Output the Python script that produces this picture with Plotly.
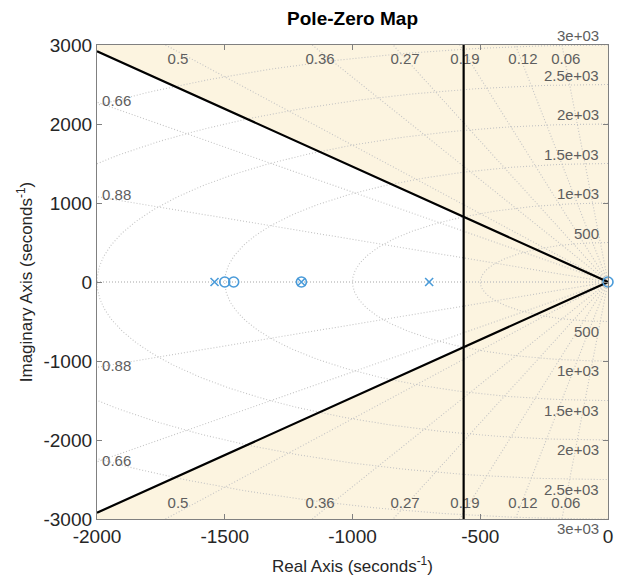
import numpy as np
import plotly.graph_objects as go

# ---- data ----
poles_re = [-1540, -1200, -700]
poles_im = [0, 0, 0]
zeros_re = [-1500, -1465, -1200, 0]
zeros_im = [0, 0, 0, 0]

zeta_grid = [0.06, 0.12, 0.19, 0.27, 0.36, 0.5, 0.66, 0.88]
wn_grid = [500, 1000, 1500, 2000, 2500, 3000]
wn_labels = ["500", "1e+03", "1.5e+03", "2e+03", "2.5e+03", "3e+03"]

zeta_top = [0.5, 0.36, 0.27, 0.19, 0.12, 0.06]
zeta_top_text = ["0.5", "0.36", "0.27", "0.19", "0.12", "0.06"]
zeta_top_x = [-1683, -1127, -794, -560, -333, -165]
zeta_side = [0.66, 0.88]
zeta_side_text = ["0.66", "0.88"]

zeta_spec = 0.565      # design damping boundary
sigma_spec = -565      # design decay boundary

x_ticks = [-2000, -1500, -1000, -500, 0]
x_ticktext = ["-2000", "-1500", "-1000", "-500", "0"]
y_ticks = [-3000, -2000, -1000, 0, 1000, 2000, 3000]
y_ticktext = ["-3000", "-2000", "-1000", "0", "1000", "2000", "3000"]

XMIN, XMAX, YMIN, YMAX = -2000, 0, -3000, 3000

BEIGE = "#FCF4E0"
GRID = "#C4C4C4"
LBL = "#5E5E5E"
BLUE = "#4A9BD9"
FONT = "Liberation Sans, Arial, sans-serif"
DOT = "1px,2px"

fig = go.Figure()

# allowed (white) region
slope = np.sqrt(1 - zeta_spec**2) / zeta_spec
wx = [XMIN, sigma_spec, sigma_spec, XMIN, XMIN]
wy = [-XMIN * slope, -sigma_spec * slope, sigma_spec * slope, XMIN * slope, -XMIN * slope]
fig.add_trace(go.Scatter(x=wx, y=wy, mode="lines", fill="toself", fillcolor="white",
                         line=dict(width=0), hoverinfo="skip", showlegend=False))

# damping grid lines
R = 5000
for z in zeta_grid + [1.0]:
    s = np.sqrt(max(0.0, 1 - z**2))
    fig.add_trace(go.Scatter(x=[0, -R * z, None, 0, -R * z], y=[0, R * s, None, 0, -R * s],
                             mode="lines", line=dict(color=GRID, width=1.1, dash=DOT),
                             hoverinfo="skip", showlegend=False))

# natural frequency grid
th = np.linspace(np.pi / 2, 3 * np.pi / 2, 240)
for wn in wn_grid:
    fig.add_trace(go.Scatter(x=wn * np.cos(th), y=wn * np.sin(th), mode="lines",
                             line=dict(color=GRID, width=1.1, dash=DOT),
                             hoverinfo="skip", showlegend=False))

# damping labels (top & bottom)
ylab = 2810
fig.add_trace(go.Scatter(x=zeta_top_x + zeta_top_x, y=[ylab] * 6 + [-ylab] * 6,
                         mode="text", text=zeta_top_text + zeta_top_text,
                         textposition="middle center",
                         textfont=dict(size=15, color=LBL, family=FONT),
                         hoverinfo="skip", showlegend=False))
side_y = [-XMIN * np.sqrt(1 - z**2) / z for z in zeta_side]
fig.add_trace(go.Scatter(x=[XMIN + 20] * 4, y=side_y + [-v for v in side_y],
                         mode="text", text=zeta_side_text + zeta_side_text,
                         textposition="middle right",
                         textfont=dict(size=15, color=LBL, family=FONT),
                         hoverinfo="skip", showlegend=False))

# design boundary lines
fig.add_trace(go.Scatter(x=[XMIN, 0, XMIN], y=[-XMIN * slope, 0, XMIN * slope], mode="lines",
                         line=dict(color="black", width=2.2), hoverinfo="skip", showlegend=False))
fig.add_trace(go.Scatter(x=[sigma_spec, sigma_spec], y=[YMIN, YMAX], mode="lines",
                         line=dict(color="black", width=2.2), hoverinfo="skip", showlegend=False))

# poles & zeros
fig.add_trace(go.Scatter(x=zeros_re, y=zeros_im, mode="markers",
                         marker=dict(symbol="circle-open", size=10, color=BLUE, line=dict(width=1.6)),
                         showlegend=False, cliponaxis=False))
fig.add_trace(go.Scatter(x=poles_re, y=poles_im, mode="markers",
                         marker=dict(symbol="x-thin-open", size=8, color=BLUE, line=dict(width=1.6, color=BLUE)),
                         showlegend=False))

# wn labels
ann = []
for wn, t in zip(wn_grid, wn_labels):
    ann.append(dict(x=-30, y=wn, text=t, xanchor="right", yanchor="bottom", showarrow=False,
                    font=dict(size=15, color=LBL, family=FONT), borderpad=0))
    ann.append(dict(x=-30, y=-wn, text=t, xanchor="right", yanchor="top", showarrow=False,
                    font=dict(size=15, color=LBL, family=FONT), borderpad=0))

fig.update_layout(
    width=624, height=582,
    margin=dict(l=97, r=16, t=45, b=63),
    paper_bgcolor="white", plot_bgcolor=BEIGE,
    font=dict(family=FONT, color="#262626"),
    title=dict(text="<b>Pole-Zero Map</b>", x=0.565, xanchor="center", y=0.968, yanchor="middle",
               font=dict(size=19, color="black", family=FONT)),
    annotations=ann,
    showlegend=False,
)
fig.update_xaxes(range=[XMIN, XMAX], tickvals=x_ticks, ticktext=x_ticktext, ticks="inside", ticklen=5,
                 tickcolor="#808080", showline=True, linecolor="#808080", linewidth=1.3,
                 mirror="ticks", showgrid=False, zeroline=False, automargin=False,
                 tickfont=dict(size=19, color="#262626"),
                 title=dict(text="Real Axis (seconds<sup>-1</sup>)", font=dict(size=17, color="#262626"),
                            standoff=14))
fig.update_yaxes(range=[YMIN, YMAX], tickvals=y_ticks, ticktext=y_ticktext, ticks="inside", ticklen=5,
                 tickcolor="#808080", showline=True, linecolor="#808080", linewidth=1.3,
                 mirror="ticks", showgrid=False, zeroline=False, automargin=False,
                 tickfont=dict(size=19, color="#262626"),
                 title=dict(text="Imaginary Axis (seconds<sup>-1</sup>)", font=dict(size=17, color="#262626"),
                            standoff=6))

fig.write_html("out.html")
